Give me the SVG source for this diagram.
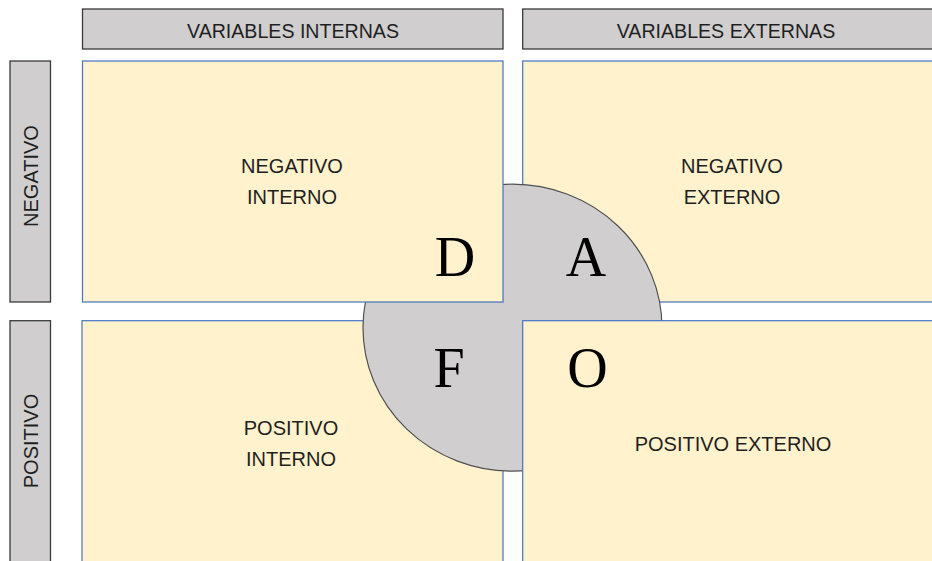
<svg xmlns="http://www.w3.org/2000/svg" width="932" height="561" viewBox="0 0 932 561">
<style>
.hdr{fill:#d0cece;stroke:#3a3a3a;stroke-width:1.3}
.quad{fill:#fff2cc;stroke:#4472c4;stroke-width:1.2}
.circ{fill:#d0cece;stroke:#505050;stroke-width:1.2}
.t{font-family:"Liberation Sans",Arial,sans-serif;font-size:20px;fill:#1f1f1f;text-anchor:middle}
.th{font-family:"Liberation Sans",Arial,sans-serif;font-size:19.6px;fill:#1f1f1f;text-anchor:middle}
.big{font-family:"Liberation Serif","Times New Roman",serif;font-size:56px;fill:#000;text-anchor:middle}
</style>
<rect width="932" height="561" fill="#ffffff"/>
<g id="header-internas">
<rect class="hdr" x="82.5" y="9" width="420.5" height="40"/>
<text class="th" x="293" y="38">VARIABLES INTERNAS</text>
</g>
<g id="header-externas">
<rect class="hdr" x="522.7" y="9" width="420" height="40"/>
<text class="th" x="726" y="38">VARIABLES EXTERNAS</text>
</g>
<g id="side-negativo">
<rect class="hdr" x="10" y="61" width="40.5" height="241"/>
<text class="t" transform="translate(38,176) rotate(-90)" x="0" y="0">NEGATIVO</text>
</g>
<g id="side-positivo">
<rect class="hdr" x="10" y="320.7" width="40.5" height="260"/>
<text class="t" transform="translate(38,441) rotate(-90)" x="0" y="0">POSITIVO</text>
</g>
<g id="negativo-externo">
<rect class="quad" x="522.7" y="61" width="420" height="241"/>
<text class="t" x="732" y="173">NEGATIVO</text>
<text class="t" x="732" y="204">EXTERNO</text>
</g>
<g id="positivo-interno">
<rect class="quad" x="82" y="320.7" width="421" height="260"/>
<text class="t" x="291" y="435">POSITIVO</text>
<text class="t" x="291" y="466">INTERNO</text>
</g>
<g id="dafo-circle">
<ellipse class="circ" cx="512.5" cy="327.7" rx="149.5" ry="143.5"/>
</g>
<g id="negativo-interno">
<rect class="quad" x="82.5" y="61" width="420.5" height="241"/>
<text class="t" x="292" y="173">NEGATIVO</text>
<text class="t" x="292" y="204">INTERNO</text>
</g>
<g id="positivo-externo">
<rect class="quad" x="522.7" y="320.7" width="420" height="260"/>
<text class="t" x="733" y="450.5">POSITIVO EXTERNO</text>
</g>
<g id="letters">
<text class="big" x="455" y="276">D</text>
<text class="big" x="586" y="276">A</text>
<text class="big" x="449" y="387">F</text>
<text class="big" x="587.5" y="387">O</text>
</g>
<g id="connectors"></g>
</svg>
